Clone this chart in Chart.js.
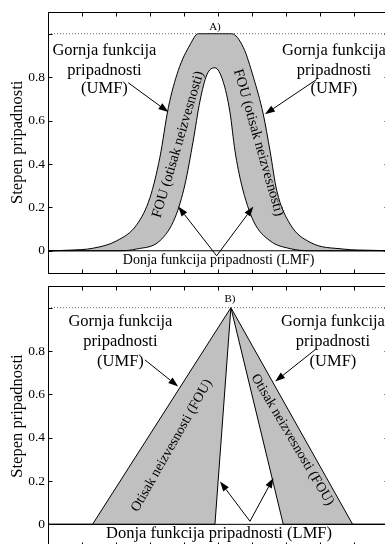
<!DOCTYPE html>
<html>
<head>
<meta charset="utf-8">
<script src="https://cdn.jsdelivr.net/npm/chart.js@4.4.0/dist/chart.umd.min.js"></script>
<style>
  html, body { margin: 0; padding: 0; background: #fff; overflow: hidden; }
  canvas { display: block; }
</style>
</head>
<body>
<canvas id="chart-a" width="392" height="275"></canvas>
<canvas id="chart-b" width="392" height="275"></canvas>
<script>
// axes: x 0..10 (tick every 1, no labels), y -0.1..1.1
var xTicks = [0, 1, 2, 3, 4, 5, 6, 7, 8, 9, 10];
var yTicks = [0, 0.2, 0.4, 0.6, 0.8, 1];
var yLabels = ['0', '0.2', '0.4', '0.6', '0.8', ''];
var refX = [0, 10];
var oneY = [1, 1];
var zeroY = [0, 0];

// A) gaussian-like set, flat top upper MF
var umfAx = [0, 0.65, 1.33, 2.02, 2.61, 3.0, 3.29, 3.54, 3.83, 4.18, 4.42, 5.4, 5.75, 6.04, 6.33, 6.53, 6.73, 7.12, 7.71, 8.68, 9.56, 10];
var umfAy = [0, 0.003, 0.012, 0.046, 0.12, 0.245, 0.43, 0.66, 0.83, 0.95, 1, 1, 0.935, 0.80, 0.63, 0.46, 0.276, 0.123, 0.039, 0.008, 0.002, 0];
var lmfAx = [0, 2.12, 2.6, 3.29, 3.74, 4.03, 4.27, 4.47, 4.67, 4.91, 5.15, 5.35, 5.5, 5.69, 6.04, 6.53, 7.12, 7.71, 10];
var lmfAy = [0, 0, 0.008, 0.046, 0.154, 0.307, 0.506, 0.69, 0.81, 0.843, 0.78, 0.64, 0.46, 0.307, 0.138, 0.046, 0.01, 0, 0];

// B) triangular set
var umfBx = [0, 1.31, 5.38, 8.96, 10];
var umfBy = [0, 0, 1, 0, 0];
var lmfBx = [0, 4.91, 5.38, 6.92, 10];
var lmfBy = [0, 0, 1, 0, 0];

var FONT = "'Liberation Serif', 'Times New Roman', serif";

var textsA = [
  { text: 'A)', x: 4.91, y: 1.018, size: 11 },
  { text: 'Gornja funkcija', x: 1.66, y: 0.904, size: 16.5 },
  { text: 'pripadnosti', x: 1.66, y: 0.812, size: 16.5 },
  { text: '(UMF)', x: 1.66, y: 0.725, size: 16.5 },
  { text: 'Gornja funkcija', x: 8.41, y: 0.904, size: 16.5 },
  { text: 'pripadnosti', x: 8.41, y: 0.812, size: 16.5 },
  { text: '(UMF)', x: 8.41, y: 0.725, size: 16.5 },
  { text: 'Donja funkcija pripadnosti (LMF)', x: 5.02, y: -0.061, size: 14 },
  { text: 'FOU (otisak neizvesnosti)', x: 3.83, y: 0.49, size: 14.5, rot: -73.5, mid: true },
  { text: 'FOU (otisak neizvesnosti)', x: 6.19, y: 0.498, size: 14.5, rot: 74, mid: true }
];
var arrowsA = [
  [2.36, 0.774, 3.54, 0.639],
  [7.90, 0.789, 6.38, 0.629],
  [4.96, -0.023, 3.83, 0.204],
  [4.96, -0.023, 6.04, 0.204]
];

var textsB = [
  { text: 'B)', x: 5.35, y: 1.028, size: 11 },
  { text: 'Gornja funkcija', x: 2.13, y: 0.917, size: 16.5 },
  { text: 'pripadnosti', x: 2.13, y: 0.823, size: 16.5 },
  { text: '(UMF)', x: 2.13, y: 0.733, size: 16.5 },
  { text: 'Gornja funkcija', x: 8.38, y: 0.917, size: 16.5 },
  { text: 'pripadnosti', x: 8.38, y: 0.823, size: 16.5 },
  { text: '(UMF)', x: 8.38, y: 0.733, size: 16.5 },
  { text: 'Donja funkcija pripadnosti (LMF)', x: 5.03, y: -0.063, size: 16.5 },
  { text: 'Otisak neizvesnosti (FOU)', x: 3.64, y: 0.364, size: 14, rot: -60.3, mid: true },
  { text: 'Otisak neizvesnosti (FOU)', x: 7.19, y: 0.39, size: 14, rot: 59.4, mid: true }
];
var arrowsB = [
  [2.85, 0.759, 3.83, 0.636],
  [7.85, 0.805, 6.68, 0.659],
  [5.94, 0.014, 5.06, 0.198],
  [5.94, 0.014, 6.63, 0.214]
];

function pts(xs, ys) {
  return xs.map(function(x, i) { return { x: x, y: ys[i] }; });
}

function toPx(chart, x, y) {
  return [chart.scales.x.getPixelForValue(x), chart.scales.y.getPixelForValue(y)];
}

// box around the plot with inward ticks on all four sides
var framePlugin = {
  id: 'frame',
  afterDraw: function(chart) {
    var a = chart.chartArea, ctx = chart.ctx;
    var sx = chart.scales.x, sy = chart.scales.y;
    var l = Math.round(a.left) + 0.5, r = Math.round(a.right) + 0.5;
    var t = Math.round(a.top) + 0.5, b = Math.round(a.bottom) + 0.5;
    ctx.save();
    ctx.strokeStyle = '#000';
    ctx.lineWidth = 1;
    ctx.strokeRect(l, t, r - l, b - t);
    ctx.beginPath();
    xTicks.forEach(function(v) {
      var x = Math.round(sx.getPixelForValue(v)) + 0.5;
      ctx.moveTo(x, t); ctx.lineTo(x, t + 4);
      ctx.moveTo(x, b); ctx.lineTo(x, b - 4);
    });
    yTicks.forEach(function(v) {
      var y = Math.round(sy.getPixelForValue(v)) + 0.5;
      ctx.moveTo(l, y); ctx.lineTo(l + 4, y);
      ctx.moveTo(r, y); ctx.lineTo(r - 4, y);
    });
    ctx.stroke();
    ctx.restore();
  }
};

function notesPlugin(texts, arrows) {
  return {
    id: 'notes',
    afterDatasetsDraw: function(chart) {
      var ctx = chart.ctx;
      ctx.save();
      ctx.fillStyle = '#000';
      ctx.strokeStyle = '#000';
      ctx.lineWidth = 1;
      texts.forEach(function(t) {
        var p = toPx(chart, t.x, t.y);
        ctx.save();
        ctx.translate(p[0], p[1]);
        ctx.rotate((t.rot || 0) * Math.PI / 180);
        ctx.font = t.size + 'px ' + FONT;
        ctx.textAlign = 'center';
        ctx.textBaseline = t.mid ? 'middle' : 'alphabetic';
        ctx.fillText(t.text, 0, 0);
        ctx.restore();
      });
      arrows.forEach(function(a) {
        var p0 = toPx(chart, a[0], a[1]), p1 = toPx(chart, a[2], a[3]);
        var ang = Math.atan2(p1[1] - p0[1], p1[0] - p0[0]);
        var len = 10, hw = 3.5;
        var bx = p1[0] - len * Math.cos(ang), by = p1[1] - len * Math.sin(ang);
        ctx.beginPath();
        ctx.moveTo(p0[0], p0[1]);
        ctx.lineTo(bx, by);
        ctx.stroke();
        ctx.beginPath();
        ctx.moveTo(p1[0], p1[1]);
        ctx.lineTo(bx + hw * Math.sin(ang), by - hw * Math.cos(ang));
        ctx.lineTo(bx - hw * Math.sin(ang), by + hw * Math.cos(ang));
        ctx.closePath();
        ctx.fill();
      });
      ctx.restore();
    }
  };
}

function makeChart(id, umf, lmf, smooth, padTop, padBottom, texts, arrows) {
  var ctx = document.getElementById(id).getContext('2d');
  var mode = smooth ? 'monotone' : 'default';
  return new Chart(ctx, {
    type: 'scatter',
    data: {
      datasets: [
        { data: pts(refX, oneY), showLine: true, borderColor: '#666', borderWidth: 1, borderDash: [1, 2], fill: false },
        { data: pts(refX, zeroY), showLine: true, borderColor: '#000', borderWidth: 1, fill: false },
        { data: lmf, showLine: true, borderColor: '#000', borderWidth: 1, cubicInterpolationMode: mode,
          fill: 'origin', backgroundColor: '#ffffff' },
        { data: umf, showLine: true, borderColor: '#000', borderWidth: 1, cubicInterpolationMode: mode,
          fill: 'origin', backgroundColor: '#c0c0c0' }
      ]
    },
    options: {
      responsive: false,
      animation: false,
      layout: { padding: { left: 0, right: 4, top: padTop, bottom: padBottom } },
      elements: { point: { radius: 0, hoverRadius: 0 } },
      plugins: { legend: { display: false }, tooltip: { enabled: false } },
      scales: {
        x: { type: 'linear', min: 0, max: 10, display: false },
        y: {
          type: 'linear', min: -0.1, max: 1.1,
          grid: { display: false, drawTicks: false },
          border: { display: false },
          afterBuildTicks: function(s) {
            s.ticks = yTicks.map(function(v) { return { value: v }; });
          },
          afterFit: function(s) {
            s.width = 48;
            s.paddingTop = 0;
            s.paddingBottom = 0;
          },
          ticks: {
            autoSkip: false,
            padding: 3,
            color: '#000',
            font: { family: FONT, size: 13.5 },
            callback: function(v, i) { return yLabels[i]; }
          },
          title: {
            display: true,
            text: 'Stepen pripadnosti',
            color: '#000',
            font: { family: FONT, size: 16.5 },
            padding: { top: 8, bottom: 0 }
          }
        }
      }
    },
    plugins: [notesPlugin(texts, arrows), framePlugin]
  });
}

makeChart('chart-a', pts(umfAx, umfAy), pts(lmfAx, lmfAy), true, 12, 2.5, textsA, arrowsA);
makeChart('chart-b', pts(umfBx, umfBy), pts(lmfBx, lmfBy), false, 11, 4, textsB, arrowsB);
</script>
</body>
</html>
